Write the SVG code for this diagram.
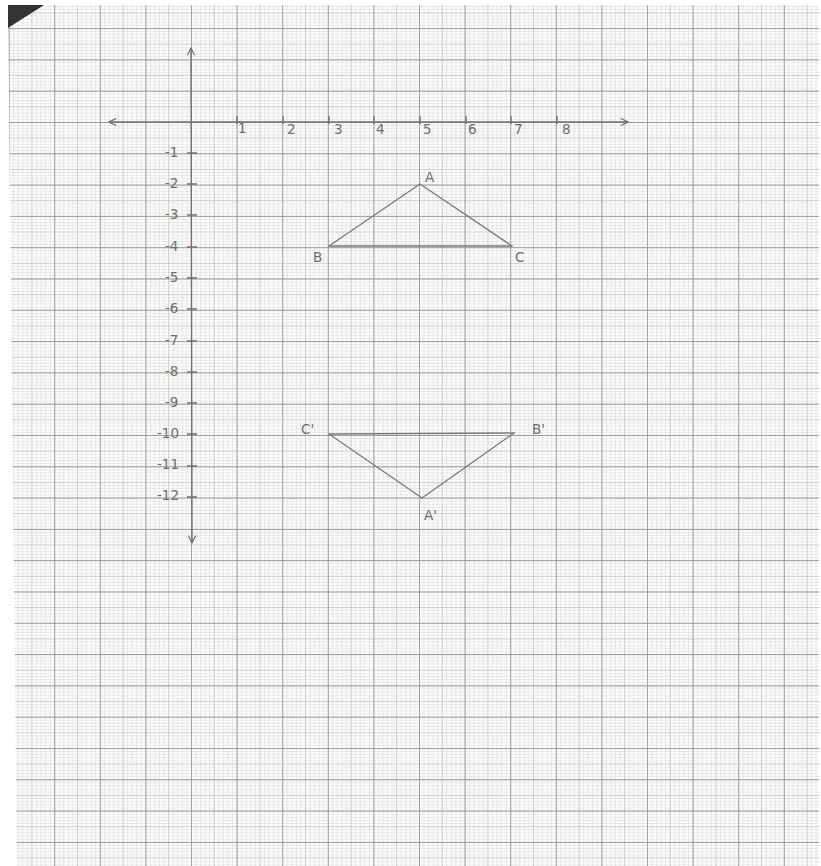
<svg xmlns="http://www.w3.org/2000/svg" width="821" height="866" viewBox="0 0 821 866">
<style>
.lbl{font-family:"DejaVu Sans","Liberation Sans",sans-serif;font-size:13.5px;fill:#6e6e6e;}
.pen{stroke:#7a7a7a;stroke-width:1.3;fill:none;stroke-linecap:round;}
.axis{stroke:#6f6f6f;stroke-width:1.4;fill:none;}
</style>
<defs>
<pattern id="gMinor" patternUnits="userSpaceOnUse" x="8.6" y="28.1" width="4.56" height="3.13">
<path d="M0 0V3.13M0 0H4.56" stroke="#d2d2d2" stroke-width="0.75" fill="none"/>
</pattern>
<pattern id="gMed" patternUnits="userSpaceOnUse" x="8.6" y="28.1" width="22.8" height="15.65">
<path d="M0 0V15.65M0 0H22.8" stroke="#b2b2b2" stroke-width="0.9" fill="none"/>
</pattern>
<pattern id="gMajor" patternUnits="userSpaceOnUse" x="8.6" y="28.1" width="45.6" height="31.3">
<path d="M0 0V31.3M0 0H45.6" stroke="#8c8c8c" stroke-width="1.3" fill="none"/>
</pattern>
<clipPath id="paper"><polygon points="8,5 819,5 819,866 17,866"/></clipPath>
<marker id="open" viewBox="0 0 10 10" refX="9" refY="5" markerWidth="9" markerHeight="9" orient="auto-start-reverse" markerUnits="userSpaceOnUse">
<path d="M1 1L9 5L1 9" stroke="#6f6f6f" stroke-width="1.3" fill="none"/>
</marker>
</defs>
<rect width="821" height="866" fill="#ffffff"/>
<g id="paper-grid" clip-path="url(#paper)">
<rect x="0" y="0" width="821" height="866" fill="#fafafa"/>
<rect x="0" y="0" width="821" height="866" fill="url(#gMinor)"/>
<rect x="0" y="0" width="821" height="866" fill="url(#gMed)"/>
<rect x="0" y="0" width="821" height="866" fill="url(#gMajor)"/>
</g>
<polygon id="corner" points="8,5 44,5 8,28" fill="#333333"/>
<g id="axes">
<line class="axis" x1="109" y1="122" x2="628" y2="122" marker-start="url(#open)" marker-end="url(#open)"/>
<line class="axis" x1="191" y1="48" x2="192" y2="543" marker-start="url(#open)" marker-end="url(#open)"/>
<path class="axis" d="M237 116V124M283 116V124M329 116V124M374 116V124M420 116V124M466 116V124M511 116V124M557 116V124"/>
<path class="axis" d="M187 153H197M187 184H197M187 215H197M187 247H197M187 278H197M187 309H197M187 341H197M187 372H197M187 403H197M187 434H197M187 466H197M187 497H197"/>
</g>
<g id="x-labels">
<text class="lbl" x="238" y="133">1</text>
<text class="lbl" x="287" y="134">2</text>
<text class="lbl" x="334" y="134">3</text>
<text class="lbl" x="376" y="134">4</text>
<text class="lbl" x="423" y="134">5</text>
<text class="lbl" x="468" y="134">6</text>
<text class="lbl" x="514" y="134">7</text>
<text class="lbl" x="562" y="134">8</text>
</g>
<g id="y-labels">
<text class="lbl" x="165" y="157">-1</text>
<text class="lbl" x="165" y="188">-2</text>
<text class="lbl" x="165" y="219">-3</text>
<text class="lbl" x="165" y="251">-4</text>
<text class="lbl" x="165" y="282">-5</text>
<text class="lbl" x="165" y="313">-6</text>
<text class="lbl" x="165" y="345">-7</text>
<text class="lbl" x="165" y="376">-8</text>
<text class="lbl" x="165" y="407">-9</text>
<text class="lbl" x="157" y="438">-10</text>
<text class="lbl" x="157" y="469">-11</text>
<text class="lbl" x="157" y="500">-12</text>
</g>
<g id="connectors">
<line class="pen" x1="420" y1="184" x2="329" y2="246"/>
<line class="pen" x1="420" y1="184" x2="512" y2="246"/>
<line class="pen" x1="329" y1="246" x2="512" y2="246"/>
<line class="pen" x1="329" y1="434" x2="514" y2="433"/>
<line class="pen" x1="329" y1="434" x2="422" y2="498"/>
<line class="pen" x1="514" y1="433" x2="422" y2="498"/>
</g>
<g id="node-A"><text class="lbl" x="425" y="182">A</text></g>
<g id="node-B"><text class="lbl" x="313" y="262">B</text></g>
<g id="node-C"><text class="lbl" x="515" y="262">C</text></g>
<g id="node-C-prime"><text class="lbl" x="301" y="434">C'</text></g>
<g id="node-B-prime"><text class="lbl" x="532" y="434">B'</text></g>
<g id="node-A-prime"><text class="lbl" x="424" y="520">A'</text></g>
</svg>
